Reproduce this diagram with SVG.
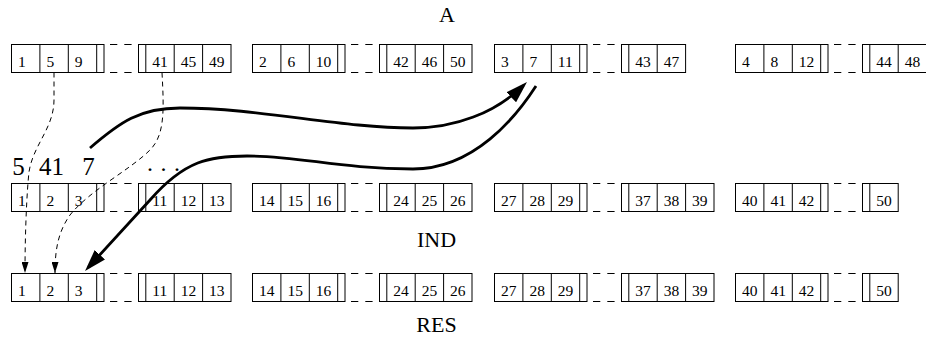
<svg xmlns="http://www.w3.org/2000/svg" width="926" height="341" viewBox="0 0 926 341">
<style>
.box{fill:none;stroke:#000;stroke-width:1}
.gap{fill:none;stroke:#000;stroke-width:1;stroke-dasharray:7.3 7}
text{font-family:"Liberation Serif","Times New Roman",serif;fill:#000}
.n{font-size:15.5px}
.lbl{font-size:22px;text-anchor:middle}
.big{font-size:25px;text-anchor:middle}
.thick{fill:none;stroke:#000;stroke-width:2.8}
.dash{fill:none;stroke:#000;stroke-width:1;stroke-dasharray:5 4}
</style>
<defs>
<g id="f3L"><rect class="box" x="0" y="0" width="92.5" height="28"/><path class="box" d="M28.4,0V28M56.8,0V28M85.2,0V28"/></g>
<g id="f3R"><rect class="box" x="0" y="0" width="92.5" height="28"/><path class="box" d="M7.3,0V28M35.7,0V28M64.1,0V28"/></g>
<g id="f2R"><rect class="box" x="0" y="0" width="64.1" height="28"/><path class="box" d="M7.3,0V28M35.7,0V28"/></g>
<g id="f1R"><rect class="box" x="0" y="0" width="35.7" height="28"/><path class="box" d="M7.3,0V28"/></g>
<path id="gp" class="gap" d="M0,0H21.7M0,28H21.7"/>
<marker id="big" markerUnits="userSpaceOnUse" markerWidth="24" markerHeight="14" refX="17" refY="7" orient="auto"><path d="M0,0L22,7L0,14z" fill="#000"/></marker>
<marker id="small" markerUnits="userSpaceOnUse" markerWidth="12" markerHeight="7" refX="11" refY="3.5" orient="auto"><path d="M0,0L11,3.5L0,7z" fill="#000"/></marker>
</defs>

<text class="lbl" x="447" y="22">A</text>
<text class="lbl" x="436.5" y="247">IND</text>
<text class="lbl" x="436.5" y="332">RES</text>

<g id="rowA">
<g id="A1"><use href="#f3L" x="11.5" y="44.5"/><text class="n" x="18" y="66.5">1</text><text class="n" x="46.4" y="66.5">5</text><text class="n" x="74.8" y="66.5">9</text></g>
<use href="#gp" x="110" y="44.5"/>
<g id="A2"><use href="#f3R" x="138.5" y="44.5"/><text class="n" x="152.3" y="66.5">41</text><text class="n" x="180.7" y="66.5">45</text><text class="n" x="209.1" y="66.5">49</text></g>
<g id="A3"><use href="#f3L" x="252.5" y="44.5"/><text class="n" x="259" y="66.5">2</text><text class="n" x="287.4" y="66.5">6</text><text class="n" x="315.8" y="66.5">10</text></g>
<use href="#gp" x="351" y="44.5"/>
<g id="A4"><use href="#f3R" x="379.5" y="44.5"/><text class="n" x="393.3" y="66.5">42</text><text class="n" x="421.7" y="66.5">46</text><text class="n" x="450.1" y="66.5">50</text></g>
<g id="A5"><use href="#f3L" x="494.5" y="44.5"/><text class="n" x="501" y="66.5">3</text><text class="n" x="529.4" y="66.5">7</text><text class="n" x="557.8" y="66.5">11</text></g>
<use href="#gp" x="593" y="44.5"/>
<g id="A6"><use href="#f2R" x="621.5" y="44.5"/><text class="n" x="635.3" y="66.5">43</text><text class="n" x="663.7" y="66.5">47</text></g>
<g id="A7"><use href="#f3L" x="735.5" y="44.5"/><text class="n" x="742" y="66.5">4</text><text class="n" x="770.4" y="66.5">8</text><text class="n" x="798.8" y="66.5">12</text></g>
<use href="#gp" x="834" y="44.5"/>
<g id="A8"><use href="#f2R" x="862.5" y="44.5"/><text class="n" x="876.3" y="66.5">44</text><text class="n" x="904.7" y="66.5">48</text></g>
</g>

<g id="rowIND">
<g id="I1"><use href="#f3L" x="11.5" y="183.5"/><text class="n" x="18" y="205.5">1</text><text class="n" x="46.4" y="205.5">2</text><text class="n" x="74.8" y="205.5">3</text></g>
<use href="#gp" x="110" y="183.5"/>
<g id="I2"><use href="#f3R" x="138.5" y="183.5"/><text class="n" x="152.3" y="205.5">11</text><text class="n" x="180.7" y="205.5">12</text><text class="n" x="209.1" y="205.5">13</text></g>
<g id="I3"><use href="#f3L" x="252.5" y="183.5"/><text class="n" x="259" y="205.5">14</text><text class="n" x="287.4" y="205.5">15</text><text class="n" x="315.8" y="205.5">16</text></g>
<use href="#gp" x="351" y="183.5"/>
<g id="I4"><use href="#f3R" x="379.5" y="183.5"/><text class="n" x="393.3" y="205.5">24</text><text class="n" x="421.7" y="205.5">25</text><text class="n" x="450.1" y="205.5">26</text></g>
<g id="I5"><use href="#f3L" x="494.5" y="183.5"/><text class="n" x="501" y="205.5">27</text><text class="n" x="529.4" y="205.5">28</text><text class="n" x="557.8" y="205.5">29</text></g>
<use href="#gp" x="593" y="183.5"/>
<g id="I6"><use href="#f3R" x="621.5" y="183.5"/><text class="n" x="635.3" y="205.5">37</text><text class="n" x="663.7" y="205.5">38</text><text class="n" x="692.1" y="205.5">39</text></g>
<g id="I7"><use href="#f3L" x="735.5" y="183.5"/><text class="n" x="742" y="205.5">40</text><text class="n" x="770.4" y="205.5">41</text><text class="n" x="798.8" y="205.5">42</text></g>
<use href="#gp" x="834" y="183.5"/>
<g id="I8"><use href="#f1R" x="862.5" y="183.5"/><text class="n" x="876.3" y="205.5">50</text></g>
</g>

<g id="rowRES">
<g id="R1"><use href="#f3L" x="11.5" y="273.5"/><text class="n" x="18" y="295.5">1</text><text class="n" x="46.4" y="295.5">2</text><text class="n" x="74.8" y="295.5">3</text></g>
<use href="#gp" x="110" y="273.5"/>
<g id="R2"><use href="#f3R" x="138.5" y="273.5"/><text class="n" x="152.3" y="295.5">11</text><text class="n" x="180.7" y="295.5">12</text><text class="n" x="209.1" y="295.5">13</text></g>
<g id="R3"><use href="#f3L" x="252.5" y="273.5"/><text class="n" x="259" y="295.5">14</text><text class="n" x="287.4" y="295.5">15</text><text class="n" x="315.8" y="295.5">16</text></g>
<use href="#gp" x="351" y="273.5"/>
<g id="R4"><use href="#f3R" x="379.5" y="273.5"/><text class="n" x="393.3" y="295.5">24</text><text class="n" x="421.7" y="295.5">25</text><text class="n" x="450.1" y="295.5">26</text></g>
<g id="R5"><use href="#f3L" x="494.5" y="273.5"/><text class="n" x="501" y="295.5">27</text><text class="n" x="529.4" y="295.5">28</text><text class="n" x="557.8" y="295.5">29</text></g>
<use href="#gp" x="593" y="273.5"/>
<g id="R6"><use href="#f3R" x="621.5" y="273.5"/><text class="n" x="635.3" y="295.5">37</text><text class="n" x="663.7" y="295.5">38</text><text class="n" x="692.1" y="295.5">39</text></g>
<g id="R7"><use href="#f3L" x="735.5" y="273.5"/><text class="n" x="742" y="295.5">40</text><text class="n" x="770.4" y="295.5">41</text><text class="n" x="798.8" y="295.5">42</text></g>
<use href="#gp" x="834" y="273.5"/>
<g id="R8"><use href="#f1R" x="862.5" y="273.5"/><text class="n" x="876.3" y="295.5">50</text></g>
</g>

<g id="values">
<text class="big" x="18.5" y="174.5">5</text>
<text class="big" x="51.5" y="174.5">41</text>
<text class="big" x="88.5" y="174.5">7</text>
<text x="147" y="170.5" style="font-size:24px;letter-spacing:0.75px">. . .</text>
</g>

<g id="connectors">
<path class="dash" d="M54,72.5L54,100C54,128 33,145 29,172C27,190 25,230 25,273" marker-end="url(#small)"/>
<path class="dash" d="M162,72.5C164,110 165,135 150,150C130,170 90,190 70,215C58,232 55,250 55,273" marker-end="url(#small)"/>
<path class="thick" d="M90,148C120,122 140,108 180,108C260,108 340,128 413,128C455,128 495,113 523.4,85.4" marker-end="url(#big)"/>
<path class="thick" d="M536,86C516,117 474,169 413,169C340,169 300,156 247,156C210,156 185,160 150,200L88.4,267.3" marker-end="url(#big)"/>
</g>
</svg>
